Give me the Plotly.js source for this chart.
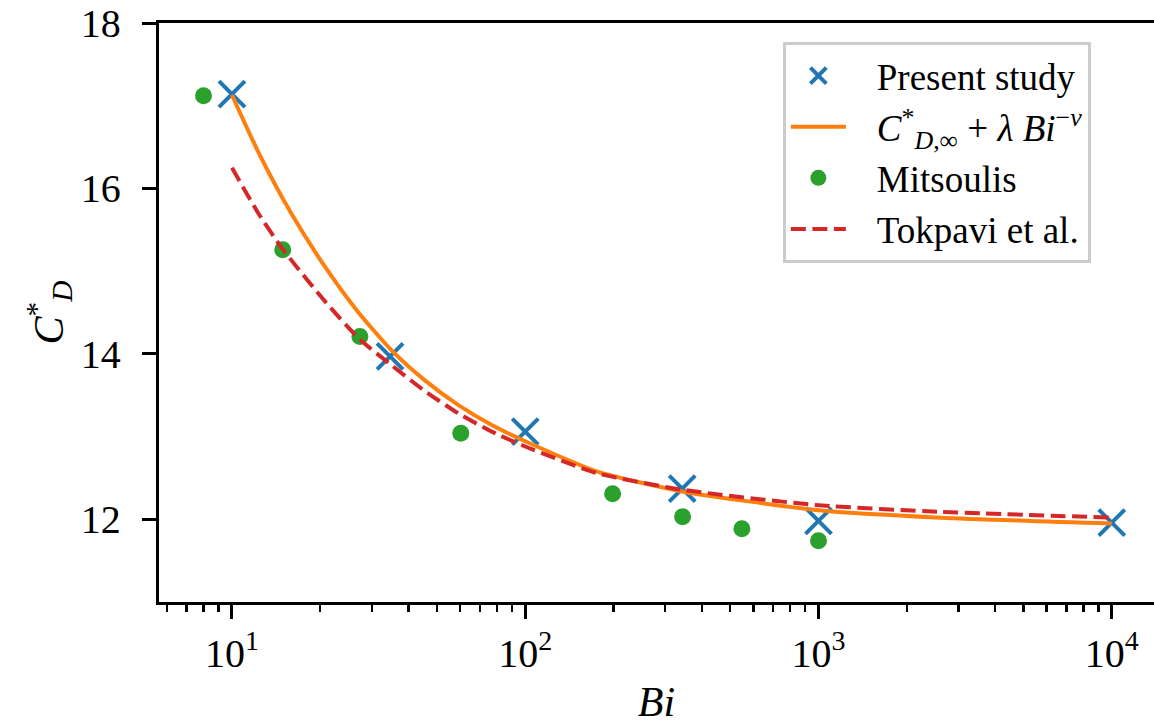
<!DOCTYPE html>
<html>
<head>
<meta charset="utf-8">
<script src="https://cdn.plot.ly/plotly-3.0.1.min.js"></script>
<style>html,body{margin:0;padding:0;background:#fff;}#chart{width:1154px;height:725px;}</style>
</head>
<body>
<div id="chart"></div>
<script>
// Present study (blue crosses)
const presentBi = [10, 34.6, 100, 343, 1000, 10000];
const presentCD = [17.14, 13.97, 13.06, 12.37, 11.98, 11.96];

// Fit curve C*_{D,inf} + lambda Bi^-nu (orange)
const fitBi = [10, 12.3, 15.98, 20.7, 27.0, 35.1, 45.5, 59.2, 76.9, 105, 175, 339, 1000, 2612, 10000];
const fitCD = [17.13, 16.44, 15.69, 15.06, 14.50, 14.04, 13.68, 13.38, 13.14, 12.91, 12.58, 12.34, 12.11, 12.02, 11.95];

// Mitsoulis (green dots)
const mitsBi = [8, 14.9, 27.3, 60.3, 198.6, 344, 548, 1000];
const mitsCD = [17.12, 15.26, 14.21, 13.04, 12.31, 12.03, 11.885, 11.74];

// Tokpavi et al. (red dashed)
const tokBi = [10, 12.3, 14.8, 20.7, 27.0, 35.1, 45.5, 59.2, 76.9, 100, 175, 339, 1000, 2612, 10000];
const tokCD = [16.25, 15.70, 15.28, 14.64, 14.19, 13.86, 13.55, 13.28, 13.06, 12.88, 12.56, 12.36, 12.17, 12.09, 12.02];

// Tick labels
const xTickVals = [10, 100, 1000, 10000];
const xTickText = ['10<sup>1</sup>', '10<sup>2</sup>', '10<sup>3</sup>', '10<sup>4</sup>'];
const xMinorVals = [6, 7, 8, 9, 20, 30, 40, 50, 60, 70, 80, 90, 200, 300, 400, 500, 600, 700, 800, 900, 2000, 3000, 4000, 5000, 6000, 7000, 8000, 9000];
const yTickVals = [12, 14, 16, 18];
const yTickLabels = ['12', '14', '16', '18'];

const FONT = 'Liberation Serif, DejaVu Serif, serif';
const GAP = '\u2002\u2009';
const PAD = '<span style="color:rgba(0,0,0,0)">-</span>';

const traces = [
  {x: presentBi, y: presentCD, type: 'scatter', mode: 'markers', name: GAP + 'Present study',
   marker: {symbol: 'x-thin', size: 26, color: '#1f77b4', line: {color: '#1f77b4', width: 4}}},
  {x: fitBi, y: fitCD, type: 'scatter', mode: 'lines', name: GAP + '<i>C</i><sup>*</sup><sub><i>D</i>,∞</sub> + <i>λ</i> <i>Bi</i><sup>−<i>ν</i></sup>',
   line: {color: '#ff7f0e', width: 4, shape: 'spline', smoothing: 0.6}},
  {x: mitsBi, y: mitsCD, type: 'scatter', mode: 'markers', name: GAP + 'Mitsoulis',
   marker: {symbol: 'circle', size: 17, color: '#2ca02c'}},
  {x: tokBi, y: tokCD, type: 'scatter', mode: 'lines', name: GAP + 'Tokpavi et al.',
   line: {color: '#d62728', width: 4, dash: '15px,6.5px', shape: 'spline', smoothing: 0.6}}
];

const layout = {
  width: 1154, height: 725,
  margin: {l: 159, r: 0, t: 23, b: 123},
  paper_bgcolor: '#ffffff', plot_bgcolor: '#ffffff',
  font: {family: FONT, size: 40, color: '#000'},
  showlegend: true,
  legend: {x: 0.627, y: 0.967, xanchor: 'left', yanchor: 'top',
           bgcolor: 'rgba(255,255,255,0.8)', bordercolor: '#cccccc', borderwidth: 3,
           font: {family: FONT, size: 37, color: '#000'}, itemwidth: 55, itemsizing: 'trace',
           tracegroupgap: 0},
  xaxis: {
    type: 'log', range: [Math.log10(5.64), 4.144],
    tickmode: 'array', tickvals: xTickVals, ticktext: xTickText,
    ticks: 'outside', ticklen: 14, tickwidth: 3, tickcolor: '#000',
    minor: {tickmode: 'array', tickvals: xMinorVals, ticks: 'outside', ticklen: 7, tickwidth: 2.5, tickcolor: '#000', showgrid: false},
    showline: true, linewidth: 3, linecolor: '#000', mirror: true,
    showgrid: false, zeroline: false,
    tickfont: {family: FONT, size: 40},
    title: {text: '<i>Bi</i>', font: {family: FONT, size: 42}, standoff: 18},
    automargin: false
  },
  yaxis: {
    range: [11, 18],
    tickmode: 'array', tickvals: yTickVals, ticktext: yTickLabels.map(t => t + PAD),
    ticks: 'outside', ticklen: 14, tickwidth: 3, tickcolor: '#000',
    showline: true, linewidth: 3, linecolor: '#000', mirror: false,
    showgrid: false, zeroline: false,
    tickfont: {family: FONT, size: 40},
    title: {text: '<i>C</i><sup>*</sup><sub><i>D</i></sub>', font: {family: FONT, size: 42}, standoff: 4},
    automargin: false
  }
};

Plotly.newPlot('chart', traces, layout, {staticPlot: true, displayModeBar: false});
</script>
</body>
</html>
